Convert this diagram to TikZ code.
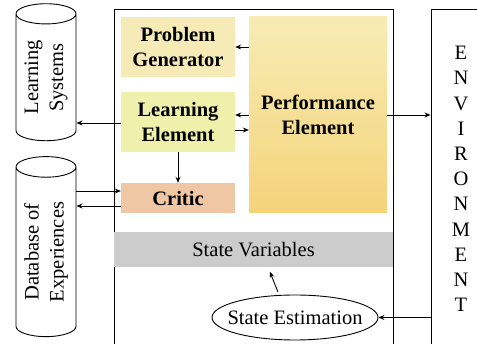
\documentclass[tikz,border=0pt]{standalone}
\usepackage{fontspec}
\setmainfont{Liberation Serif}
\usetikzlibrary{shapes,arrows.meta}

\definecolor{pgfill}{RGB}{246,235,183}
\definecolor{lefill}{RGB}{239,240,172}
\definecolor{crfill}{RGB}{240,199,165}
\definecolor{petop}{RGB}{247,236,180}
\definecolor{pebottom}{RGB}{244,211,122}
\definecolor{svfill}{RGB}{204,204,204}

\begin{document}
\begin{tikzpicture}[x=1pt,y=-1pt,>={Stealth[length=6pt,width=5pt,inset=2pt]}]
    \tikzstyle{unit}=[rectangle,inner sep=0pt,align=center,font=\fontsize{20.5}{25}\selectfont\bfseries]
    \tikzstyle{frame}=[rectangle,draw,line width=0.9pt,inner sep=0pt]
    \tikzstyle{store}=[cylinder,draw,line width=0.9pt,rotate=90,aspect=0.47,minimum width=60pt,inner sep=0pt,align=center,font=\fontsize{20.5}{25}\selectfont]
    \tikzstyle{link}=[->,line width=0.9pt]
    \useasboundingbox (0,0) rectangle (477,344);
    % agent and its surroundings
    \node[frame,minimum width=279pt,minimum height=350pt] (agent) at (253.5,184) {};
    \node[frame,minimum width=60pt,minimum height=340pt,align=center,font=\fontsize{20.5}{25.2}\selectfont] (env) at (461,179)
      {E\\N\\V\\I\\R\\O\\N\\M\\E\\N\\T};
    \node[store,minimum height=137pt] (ls) at (46,77.5) {Learning\\Systems};
    \node[store,minimum height=180pt] (db) at (46,252) {Database of\\Experiences};
    % the parts of the agent
    \node[unit,fill=pgfill,minimum width=114pt,minimum height=60pt] (pg) at (178,47) {Problem\\Generator};
    \node[unit,fill=lefill,minimum width=114pt,minimum height=60pt] (le) at (178,122) {Learning\\Element};
    \node[unit,fill=crfill,minimum width=114pt,minimum height=30pt] (cr) at (178,198) {Critic};
    \node[unit,top color=petop,bottom color=pebottom,minimum width=138pt,minimum height=196pt] (pe) at (318,115) {Performance\\Element};
    \node[unit,fill=svfill,font=\fontsize{20.5}{25}\selectfont,minimum width=279pt,minimum height=35pt] (sv) at (253.5,249.5) {State Variables};
    \node[ellipse,draw,line width=0.9pt,inner xsep=-14pt,inner ysep=0pt,minimum width=166pt,minimum height=45pt,font=\fontsize{20.5}{25}\selectfont] (se) at (295,317.5) {State Estimation};
    % connectors
    \draw[link] ([yshift=-1pt]le.west) -- ([yshift=-1pt]le.west -| ls.south);
    \draw[link] (pe.west |- pg.east) -- (pg.east);
    \draw[link] ([yshift=7pt]le.east -| pe.west) -- ([yshift=7pt]le.east);
    \draw[link] ([yshift=-8pt]le.east) -- ([yshift=-8pt]le.east -| pe.west);
    \draw[link] (le.south) -- (cr.north);
    \draw[link] ([yshift=7pt]cr.west -| db.south) -- ([yshift=7pt]cr.west);
    \draw[link] ([yshift=-8pt]cr.west) -- ([yshift=-8pt]cr.west -| db.south);
    \draw[link] (pe.east) -- (pe.east -| env.west);
    \draw[link] (se.east -| env.west) -- (se.east);
    \draw[link,shorten <=3pt,shorten >=5pt] ([xshift=-16pt]se.north) -- ([xshift=14.5pt]sv.south);
\end{tikzpicture}
\end{document}
